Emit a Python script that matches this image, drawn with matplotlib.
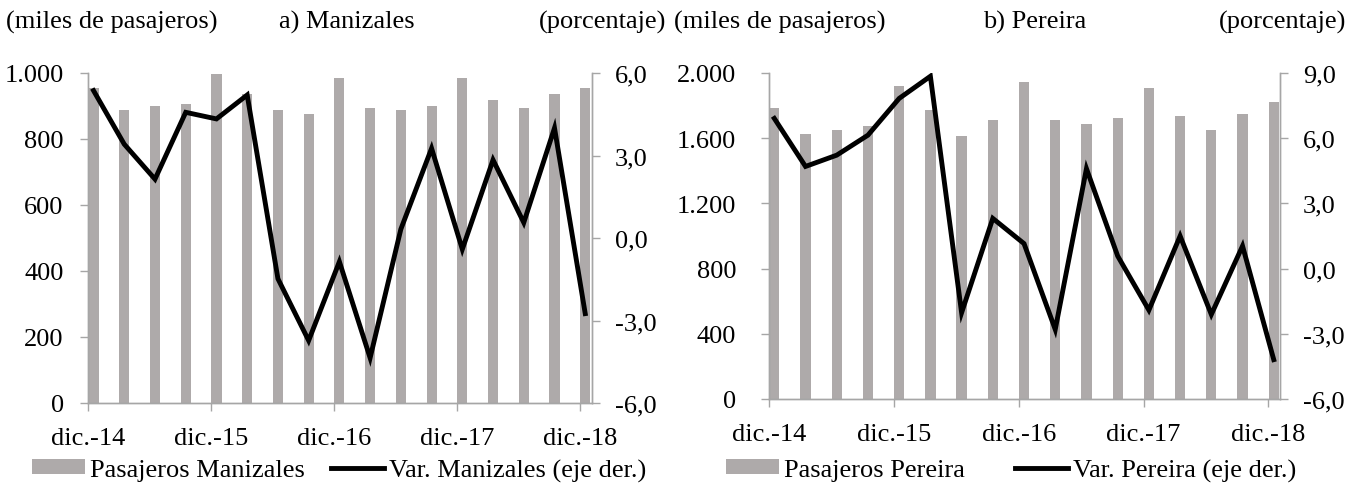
import numpy as np
import matplotlib
matplotlib.use('Agg')
import matplotlib.pyplot as plt
from matplotlib.patches import Patch
from matplotlib.lines import Line2D
from matplotlib.ticker import FuncFormatter

plt.rcParams['font.family'] = ['Liberation Serif', 'DejaVu Serif']
plt.rcParams['font.size'] = 19

# quarterly data, dic.-14 to dic.-18
tick_labels = ['dic.-14', 'dic.-15', 'dic.-16', 'dic.-17', 'dic.-18']

pas_manizales = [954, 888, 900, 906, 997, 936, 888, 876, 984, 894, 888, 900,
                 984, 918, 894, 936, 954]
var_manizales = [5.36, 3.41, 2.14, 4.57, 4.33, 5.2, -1.48, -3.73, -0.86, -4.36,
                 0.32, 3.26, -0.41, 2.84, 0.56, 4.0, -2.75]

pas_pereira = [1785, 1625, 1652, 1676, 1922, 1773, 1613, 1711, 1945, 1711, 1686,
               1723, 1908, 1736, 1652, 1748, 1822]
var_pereira = [6.91, 4.7, 5.22, 6.14, 7.83, 8.85, -2.03, 2.31, 1.15, -2.8, 4.6,
               0.58, -1.91, 1.5, -2.11, 1.04, -4.19]

BAR = '#AEAAAA'
AX = '#A6A6A6'
W, H = 1349, 485


def thousands(v, pos):
    return '{:,.0f}'.format(v).replace(',', '.')


def pct(v, pos):
    return '{:.1f}'.format(v).replace('.', ',')


def panel(rect, pas, var, ylim, ylim2, yticks, yticks2, xlim, lpad, rpad):
    x = np.arange(len(pas))
    ax = fig.add_axes(rect)
    ax.bar(x, pas, width=0.33, color=BAR, zorder=1)
    ax.set_ylim(*ylim)
    ax.set_yticks(yticks)
    ax.yaxis.set_major_formatter(FuncFormatter(thousands))
    ax.set_xlim(*xlim)
    ax.set_xticks(np.arange(0, 17, 4) - 0.17)
    ax.set_xticklabels(tick_labels)
    ax2 = ax.twinx()
    ax2.plot(x, var, color='black', lw=3.5, zorder=3, solid_joinstyle='miter')
    ax2.set_ylim(*ylim2)
    ax2.set_yticks(yticks2)
    ax2.yaxis.set_major_formatter(FuncFormatter(pct))
    for a in (ax, ax2):
        for s in a.spines.values():
            s.set_color(AX)
            s.set_linewidth(1.0)
        a.spines['top'].set_visible(False)
        a.tick_params(color=AX, length=5.5, width=1.0, direction='out')
    ax.tick_params(axis='y', pad=lpad)
    ax.tick_params(axis='x', pad=12)
    ax2.tick_params(axis='y', pad=rpad)
    return ax, ax2


fig = plt.figure(figsize=(W / 100, H / 100), dpi=100)

panel([88 / W, (H - 404) / H, (592 - 88) / W, (404 - 74) / H],
      pas_manizales, var_manizales, (0, 1000), (-6, 6),
      np.arange(0, 1001, 200), np.arange(-6, 6.1, 3), (-0.18, 16.22), 12, 11)
panel([769 / W, (H - 400) / H, (1280 - 769) / W, (400 - 74) / H],
      pas_pereira, var_pereira, (0, 2000), (-6, 9),
      np.arange(0, 2001, 400), np.arange(-6, 9.1, 3), (-0.12, 16.2), 18, 11)

ty = 1 - 22 / H
fig.text(6 / W, ty, '(miles de pasajeros)', va='center', ha='left')
fig.text(347 / W, ty, 'a) Manizales', va='center', ha='center')
fig.text(666 / W, ty, '(porcentaje)', va='center', ha='right')
fig.text(674 / W, ty, '(miles de pasajeros)', va='center', ha='left')
fig.text(1035 / W, ty, 'b) Pereira', va='center', ha='center')
fig.text(1346 / W, ty, '(porcentaje)', va='center', ha='right')

for x0, name, cs in [(32, 'Manizales', 1.0), (726, 'Pereira', 1.9)]:
    handles = [Patch(facecolor=BAR, edgecolor='none'),
               Line2D([], [], color='black', lw=3.5)]
    labels = ['Pasajeros ' + name, 'Var. ' + name + ' (eje der.)']
    fig.legend(handles, labels, loc='center left',
               bbox_to_anchor=(x0 / W, 1 - 471 / H), ncol=2, frameon=False,
               borderpad=0, borderaxespad=0, handlelength=2.0,
               handleheight=0.5, handletextpad=0.2, columnspacing=cs)

plt.savefig('out.png', dpi=100)
